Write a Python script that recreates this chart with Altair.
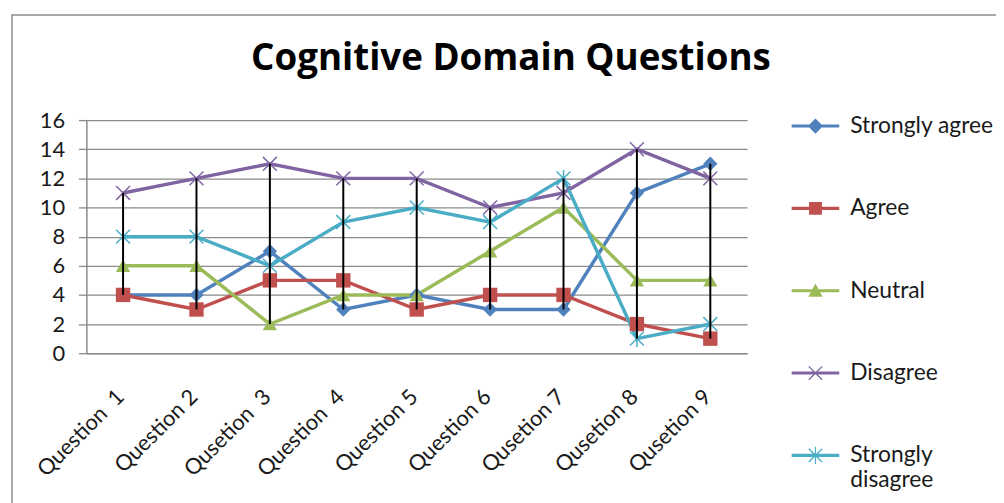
import altair as alt
import pandas as pd

questions = ["Question\u00a0 1", "Question 2", "Qusetion\u00a0 3", "Question\u00a0 4", "Question 5",
             "Question 6", "Qusetion 7", "Qusetion 8", "Qusetion 9"]
series = ["Strongly agree", "Agree", "Neutral", "Disagree", "Strongly disagree"]
strongly_agree = [4, 4, 7, 3, 4, 3, 3, 11, 13]
agree = [4, 3, 5, 5, 3, 4, 4, 2, 1]
neutral = [6, 6, 2, 4, 4, 7, 10, 5, 5]
disagree = [11, 12, 13, 12, 12, 10, 11, 14, 12]
strongly_disagree = [8, 8, 6, 9, 10, 9, 12, 1, 2]
colors = ["#4F81BD", "#C0504D", "#9BBB59", "#8064A2", "#4BACC6"]
y_ticks = [0, 2, 4, 6, 8, 10, 12, 14, 16]

rows = []
for s, vals in zip(series, [strongly_agree, agree, neutral, disagree, strongly_disagree]):
    for i, (q, v) in enumerate(zip(questions, vals)):
        rows.append({"question": q, "series": s, "value": v, "idx": i})
df = pd.DataFrame(rows)

FONT = "Lato"
GRAY = "#8a8a8a"
TXT = "#1a1a1a"

x_axis = alt.Axis(title=None, labelAngle=-45, labelAlign="right", labelBaseline="middle",
                  labelPadding=40, labelOffset=-3, ticks=False, tickSize=0, grid=False,
                  domainColor=GRAY, domainWidth=1.5, labelFont=FONT, labelFontSize=22,
                  labelColor=TXT)
y_axis = alt.Axis(title=None, values=y_ticks, grid=True, gridColor=GRAY, gridWidth=1.3,
                  domainColor=GRAY, domainWidth=1.5, tickColor=GRAY, tickWidth=1.3,
                  tickSize=8, labelPadding=14, labelFont=FONT, labelFontSize=22,
                  labelColor=TXT)
x_scale = alt.Scale(domain=questions, type="point", padding=0.5)
y_scale = alt.Scale(domain=[0, 16], nice=False)


def X():
    return alt.X("question:N", scale=x_scale, axis=x_axis, sort=questions)


border = alt.Chart(pd.DataFrame({"a": [0]})).mark_rect(
    filled=False, color="#8c8c8c", strokeWidth=1.5
).encode(x=alt.value(-75), x2=alt.value(1200), y=alt.value(-106), y2=alt.value(700))

lines = alt.Chart(df).mark_line(strokeWidth=3.5).encode(
    x=X(),
    y=alt.Y("value:Q", scale=y_scale, axis=y_axis),
    color=alt.Color("series:N", scale=alt.Scale(domain=series, range=colors), legend=None),
    order=alt.Order("idx:Q"),
)

pts_filled = alt.Chart(df).transform_filter(
    alt.FieldOneOfPredicate(field="series", oneOf=series[:3])
).mark_point(filled=True, opacity=1, size=210).encode(
    x=X(),
    y=alt.Y("value:Q", scale=y_scale, axis=y_axis),
    color=alt.Color("series:N", scale=alt.Scale(domain=series[:3], range=colors[:3]), legend=None),
    shape=alt.Shape("series:N", scale=alt.Scale(domain=series[:3],
                                                range=["diamond", "square", "triangle-up"]),
                    legend=None),
)

pts_open = alt.Chart(df).transform_filter(
    alt.FieldOneOfPredicate(field="series", oneOf=series[3:])
).mark_point(filled=False, opacity=1, size=196, strokeWidth=1.5).encode(
    x=X(),
    y=alt.Y("value:Q", scale=y_scale, axis=y_axis),
    color=alt.Color("series:N", scale=alt.Scale(domain=series[3:], range=colors[3:]), legend=None),
    shape=alt.Shape("series:N", scale=alt.Scale(domain=series[3:],
                                                range=["M-1,-1L1,1M-1,1L1,-1",
                                                       "M-1,-1L1,1M-1,1L1,-1M0,-1.2L0,1.2"]),
                    legend=None),
)

rules = alt.Chart(df).transform_aggregate(
    lo="min(value)", hi="max(value)", groupby=["question"]
).mark_rule(color="black", strokeWidth=2).encode(
    x=X(),
    y=alt.Y("lo:Q", scale=y_scale, axis=y_axis),
    y2="hi:Q",
)

LINE = "M-1,-0.065H1V0.065H-1Z"
legend_paths = [
    LINE + "M0,-0.32L0.32,0L0,0.32L-0.32,0Z",
    LINE + "M-0.27,-0.27H0.27V0.27H-0.27Z",
    LINE + "M0,-0.3L0.3,0.25L-0.3,0.25Z",
    LINE + "M-0.3,-0.26L-0.26,-0.3L0.3,0.26L0.26,0.3ZM0.26,-0.3L0.3,-0.26L-0.26,0.3L-0.3,0.26Z",
    LINE + "M-0.3,-0.26L-0.26,-0.3L0.3,0.26L0.26,0.3ZM0.26,-0.3L0.3,-0.26L-0.26,0.3L-0.3,0.26Z"
         "M-0.025,-0.36H0.025V0.36H-0.025Z",
]
legend = alt.Legend(
    title=None, orient="none", legendX=711, legendY=-18, symbolSize=2304,
    symbolStrokeWidth=0, labelFont=FONT, labelFontSize=23, labelColor=TXT,
    labelOffset=11, rowPadding=47, labelLimit=300, padding=0,
    labelExpr="datum.label == 'Strongly disagree' ? ['Strongly', 'disagree'] : datum.label",
)
legend_layer = alt.Chart(df).transform_filter("false").mark_point(
    filled=True, opacity=1
).encode(
    x=X(),
    y=alt.Y("value:Q", scale=y_scale, axis=y_axis),
    color=alt.Color("series:N", scale=alt.Scale(domain=series, range=colors), legend=legend),
    shape=alt.Shape("series:N", scale=alt.Scale(domain=series, range=legend_paths), legend=legend),
)

chart = alt.layer(border, lines, pts_filled, pts_open, rules, legend_layer).resolve_scale(
    color="independent", shape="independent"
).properties(
    width=666, height=235,
    padding={"left": 79, "top": 111, "right": 251, "bottom": 149},
    autosize=alt.AutoSizeParams(type="none"),
    title=alt.TitleParams(text="Cognitive Domain Questions", font="Open Sans", fontSize=37,
                          fontWeight="bold", color="#000", anchor="middle", frame="group",
                          dx=95, offset=-93, baseline="alphabetic"),
).configure_view(stroke=None)

chart.save("out.html", embed_options={"renderer": "svg", "actions": False})
